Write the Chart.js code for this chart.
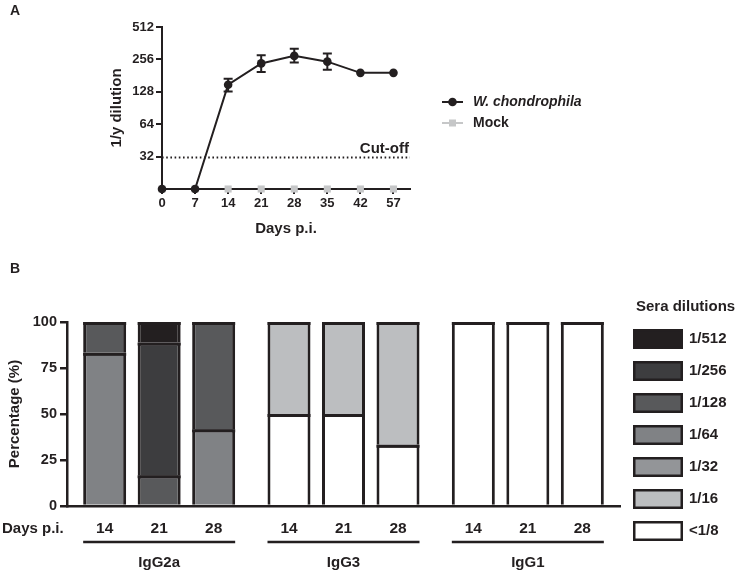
<!DOCTYPE html>
<html><head><meta charset="utf-8">
<script src="https://cdn.jsdelivr.net/npm/chart.js@4.4.1/dist/chart.umd.min.js"></script>
<style>
html,body{margin:0;padding:0;background:#fff;width:737px;height:574px;overflow:hidden;font-family:"Liberation Sans",Arial,sans-serif;}
canvas{position:absolute;left:0;}
.panel{position:absolute;font-weight:bold;font-size:14px;line-height:14px;color:#231f20;}
</style></head><body>
<canvas id="cA" width="737" height="248" style="top:0;width:737px;height:248px"></canvas>
<canvas id="cB" width="737" height="326" style="top:248px;width:737px;height:326px"></canvas>
<div class="panel" style="left:10px;top:3px">A</div>
<div class="panel" style="left:10px;top:261px">B</div>
<script>
// ---------- Panel A data ----------
const daysA = ['0','7','14','21','28','35','42','57'];
const wchondro = [16,16,149,235,276,244,192,192];
const wErrLow  = [null,null,129,195,239,205,null,null];
const wErrHigh = [null,null,169,280,322,290,null,null];
const mock = [16,16,16,16,16,16,16,16];
const yTicksA = [32,64,128,256,512];
const cutoff = 32;

// ---------- Panel B data ----------
const groupsB = ['IgG2a','IgG3','IgG1'];
const daysB = ['14','21','28'];
const dilutions = ['<1/8','1/16','1/32','1/64','1/128','1/256','1/512'];
// percentages; order: IgG2a d14,d21,d28 | IgG3 d14,d21,d28 | IgG1 d14,d21,d28
const pLt8 = [0,0,0,      50,50,33.3, 100,100,100];
const p16  = [0,0,0,      50,50,66.7, 0,0,0];
const p32  = [0,0,0,      0,0,0,      0,0,0];
const p64  = [83.3,0,41.7, 0,0,0,     0,0,0];
const p128 = [16.7,16.7,58.3, 0,0,0,  0,0,0];
const p256 = [0,72.2,0,   0,0,0,      0,0,0];
const p512 = [0,11.1,0,   0,0,0,      0,0,0];
const yTicksB = [0,25,50,75,100];

// ---------- styles ----------
const INK = '#231f20';
const MOCKC = '#c6c7c8';
const dilColors = ['#ffffff','#bcbec0','#939598','#808285','#58595b','#3d3d3f','#231f20'];
const FAM = '"Liberation Sans", Arial, Helvetica, sans-serif';
Chart.defaults.font.family = FAM;
Chart.defaults.font.weight = 'bold';
Chart.defaults.color = INK;
Chart.defaults.animation = false;

// ---------- Panel A plugins ----------
const aExtras = {
  id: 'aExtras',
  afterDatasetsDraw(chart) {
    const ctx = chart.ctx, y = chart.scales.y, ca = chart.chartArea;
    const meta = chart.getDatasetMeta(0);
    ctx.save();
    ctx.strokeStyle = INK; ctx.lineWidth = 2;
    wErrLow.forEach((lo, i) => {
      if (lo == null) return;
      const x = meta.data[i].x;
      const yl = y.getPixelForValue(lo), yh = y.getPixelForValue(wErrHigh[i]);
      ctx.beginPath();
      ctx.moveTo(x, yl); ctx.lineTo(x, yh);
      ctx.moveTo(x-4.5, yl); ctx.lineTo(x+4.5, yl);
      ctx.moveTo(x-4.5, yh); ctx.lineTo(x+4.5, yh);
      ctx.stroke();
    });
    const yc = Math.round(y.getPixelForValue(cutoff)) + 0.5;
    ctx.setLineDash([1.6, 2.6]); ctx.lineWidth = 1.8;
    ctx.beginPath(); ctx.moveTo(ca.left, yc); ctx.lineTo(ca.right, yc); ctx.stroke();
    ctx.setLineDash([]);
    ctx.fillStyle = INK; ctx.font = 'bold 15px ' + FAM;
    ctx.textAlign = 'right'; ctx.textBaseline = 'alphabetic';
    ctx.fillText('Cut-off', ca.right - 1, yc - 5);
    ctx.restore();
  },
  afterDraw(chart) {
    const ctx = chart.ctx;
    ctx.save();
    ctx.strokeStyle = INK; ctx.lineWidth = 2;
    ctx.beginPath(); ctx.moveTo(442, 102); ctx.lineTo(463, 102); ctx.stroke();
    ctx.fillStyle = INK; ctx.beginPath(); ctx.arc(452.5, 102, 4.3, 0, Math.PI*2); ctx.fill();
    ctx.font = 'italic bold 14px ' + FAM; ctx.textBaseline = 'middle'; ctx.textAlign = 'left';
    ctx.fillText('W. chondrophila', 473, 102);
    ctx.strokeStyle = MOCKC;
    ctx.beginPath(); ctx.moveTo(442, 123); ctx.lineTo(463, 123); ctx.stroke();
    ctx.fillStyle = MOCKC; ctx.fillRect(449, 119.5, 7, 7);
    ctx.fillStyle = INK; ctx.font = 'bold 14px ' + FAM;
    ctx.fillText('Mock', 473, 123);
    ctx.restore();
  }
};

new Chart(document.getElementById('cA'), {
  type: 'line',
  data: {
    datasets: [
      { label: 'W. chondrophila', data: wchondro.map((v,i)=>({x:i, y:v})),
        borderColor: INK, backgroundColor: INK, borderWidth: 2, pointRadius: 4.3,
        pointStyle: 'circle', pointBorderWidth: 0, clip: false, tension: 0 },
      { label: 'Mock', data: mock.map((v,i)=>({x:i, y:v})),
        borderColor: MOCKC, backgroundColor: MOCKC, showLine: false, pointRadius: 5,
        pointStyle: 'rect', pointBorderWidth: 0, clip: false }
    ]
  },
  options: {
    responsive: false,
    layout: { padding: { left: 104, right: 327, top: 27, bottom: 0 } },
    plugins: { legend: { display: false }, tooltip: { enabled: false } },
    scales: {
      x: {
        type: 'linear', min: 0, max: 7.5,
        afterBuildTicks: s => { s.ticks = daysA.map((d,i)=>({value:i})); },
        afterFit: s => { s.height = 59; },
        ticks: { callback: v => daysA[v], font: { size: 13, weight: 'bold' }, padding: 2, color: INK, autoSkip: false, maxRotation: 0 },
        grid: { drawOnChartArea: false, drawTicks: true, tickLength: 5, color: INK, lineWidth: 2 },
        border: { display: true, color: INK, width: 2 },
        title: { display: true, text: 'Days p.i.', font: { size: 15, weight: 'bold' }, color: INK, padding: { top: 4, bottom: 10 } }
      },
      y: {
        type: 'logarithmic', min: 16, max: 512,
        afterBuildTicks: s => { s.ticks = yTicksA.map(v=>({value:v})); },
        afterFit: s => { s.width = 58; },
        ticks: { callback: v => String(v), font: { size: 13, weight: 'bold' }, padding: 2, color: INK, autoSkip: false },
        grid: { drawOnChartArea: false, drawTicks: true, tickLength: 6, color: INK, lineWidth: 2 },
        border: { display: true, color: INK, width: 2 },
        title: { display: true, text: '1/y dilution', font: { size: 15, weight: 'bold' }, color: INK, padding: { top: 4, bottom: 4 } }
      }
    }
  },
  plugins: [aExtras]
});

// ---------- Panel B ----------
const pSeries = [pLt8, p16, p32, p64, p128, p256, p512];
const dsB = [];
pSeries.forEach((arr, k) => {
  daysB.forEach((d, di) => {
    dsB.push({
      label: dilutions[k], stack: 'day' + d, dilIndex: k, dayIndex: di,
      data: groupsB.map((g, gi) => { const v = arr[gi*3 + di]; return v ? v : null; }),
      backgroundColor: dilColors[k], borderColor: INK, borderWidth: 3, borderSkipped: 'start',
      inflateAmount: 0, categoryPercentage: 0.887, barPercentage: 0.789
    });
  });
});

const bExtras = {
  id: 'bExtras',
  afterDatasetsDraw(chart) {
    // re-stroke the dividing line on top of each stacked segment so seams stay dark
    const ctx = chart.ctx;
    ctx.save();
    ctx.strokeStyle = INK; ctx.lineWidth = 3;
    chart.data.datasets.forEach((ds, i) => {
      chart.getDatasetMeta(i).data.forEach((el, j) => {
        if (ds.data[j] == null) return;
        ctx.beginPath();
        ctx.moveTo(el.x - el.width/2, el.y + 1.5);
        ctx.lineTo(el.x + el.width/2, el.y + 1.5);
        ctx.stroke();
      });
    });
    ctx.restore();
  },
  afterDraw(chart) {
    const ctx = chart.ctx, ca = chart.chartArea;
    ctx.save();
    ctx.fillStyle = INK; ctx.strokeStyle = INK;
    ctx.font = 'bold 15px ' + FAM; ctx.textBaseline = 'middle';
    const yDay = ca.bottom + 23, yLine = ca.bottom + 36;
    ctx.textAlign = 'left';
    ctx.fillText('Days p.i.', 2, yDay);
    ctx.textAlign = 'center';
    ctx.font = 'bold 15.5px ' + FAM;
    groupsB.forEach((g, gi) => {
      let left = Infinity, right = -Infinity;
      daysB.forEach((d, di) => {
        const idx = chart.data.datasets.findIndex(ds => ds.dayIndex === di);
        const el = chart.getDatasetMeta(idx).data[gi];
        ctx.fillText(d, el.x, yDay);
        left = Math.min(left, el.x - el.width/2);
        right = Math.max(right, el.x + el.width/2);
      });
      ctx.lineWidth = 2.5;
      ctx.beginPath(); ctx.moveTo(left, yLine); ctx.lineTo(right, yLine); ctx.stroke();
    });
    ctx.textAlign = 'left';
    ctx.font = 'bold 15px ' + FAM;
    ctx.fillText('Sera dilutions', 636, 59);
    for (let k = dilutions.length - 1, r = 0; k >= 0; k--, r++) {
      const top = 81 + 32*r;
      ctx.fillStyle = dilColors[k];
      ctx.fillRect(633, top, 50, 20);
      ctx.lineWidth = 2.5; ctx.strokeStyle = INK;
      ctx.strokeRect(634.25, top + 1.25, 47.5, 17.5);
      ctx.fillStyle = INK;
      ctx.fillText(dilutions[k], 689, top + 10);
    }
    ctx.restore();
  }
};

new Chart(document.getElementById('cB'), {
  type: 'bar',
  data: { labels: groupsB, datasets: dsB },
  options: {
    responsive: false,
    layout: { padding: { left: 2, right: 117, top: 74, bottom: 0 } },
    plugins: { legend: { display: false }, tooltip: { enabled: false } },
    scales: {
      x: {
        stacked: true,
        afterFit: s => { s.height = 68; },
        ticks: { font: { size: 15, weight: 'bold' }, padding: 48, color: INK },
        grid: { drawOnChartArea: false, drawTicks: false, color: INK },
        border: { display: true, color: INK, width: 2.5 }
      },
      y: {
        stacked: true, min: 0, max: 100,
        afterBuildTicks: s => { s.ticks = yTicksB.map(v=>({value:v})); },
        afterFit: s => { s.width = 65; },
        ticks: { font: { size: 14.5, weight: 'bold' }, padding: 3, color: INK },
        grid: { drawOnChartArea: false, drawTicks: true, tickLength: 7, color: INK, lineWidth: 2.5 },
        border: { display: true, color: INK, width: 2.5 },
        title: { display: true, text: 'Percentage (%)', font: { size: 15, weight: 'bold' }, color: INK, padding: { top: 4, bottom: 4 } }
      }
    }
  },
  plugins: [bExtras]
});
</script>
</body></html>
